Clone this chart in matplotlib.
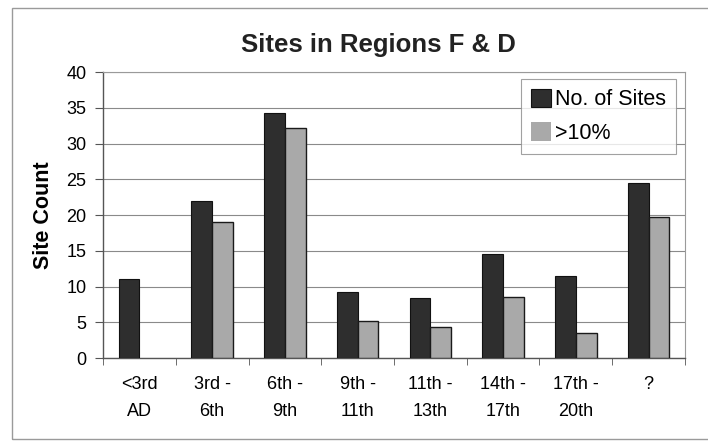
import matplotlib
matplotlib.use("Agg")
import matplotlib.pyplot as plt
from matplotlib.patches import Rectangle
import numpy as np

categories = ["<3rd\nAD", "3rd -\n6th", "6th -\n9th", "9th -\n11th",
              "11th -\n13th", "14th -\n17th", "17th -\n20th", "?"]
no_of_sites = [11, 22, 34.2, 9.2, 8.4, 14.5, 11.5, 24.5]
over_10pct = [0, 19, 32.1, 5.2, 4.4, 8.5, 3.5, 19.7]
series_names = ["No. of Sites", ">10%"]

plt.rcParams['font.family'] = ['Liberation Sans', 'DejaVu Sans']

fig = plt.figure(figsize=(7.08, 4.41), dpi=100)
ax = fig.add_axes([0.1455, 0.1882, 0.822, 0.6485])

x = np.arange(len(categories))
w = 1 / 3.5
ax.bar(x - w / 2, no_of_sites, w, color="#2e2e2e", edgecolor="#111111",
       linewidth=0.8, label=series_names[0], zorder=3)
bars = ax.bar(x + w / 2, over_10pct, w, color="#a9a9a9", edgecolor="#1a1a1a",
              linewidth=1.0, label=series_names[1], zorder=3)
for b, v in zip(bars, over_10pct):
    if v == 0:
        b.set_edgecolor("none")

ax.set_xlim(-0.5, len(categories) - 0.5)
ax.set_ylim(0, 40)
ax.set_yticks(range(0, 41, 5))
ax.yaxis.grid(True, color="#8a8a8a", linewidth=0.8, zorder=0)

# category labels centred, tick marks between categories
ax.set_xticks(x)
ax.set_xticklabels(categories, fontsize=13, linespacing=1.75)
ax.tick_params(axis="x", length=0, pad=13)
ax.set_xticks(np.arange(-0.5, len(categories), 1), minor=True)
ax.tick_params(axis="x", which="minor", length=5, color="#555555", direction="out")
ax.tick_params(axis="y", labelsize=13, length=6, color="#555555", pad=6)

for side in ["top", "right"]:
    ax.spines[side].set_color("#9a9a9a")
    ax.spines[side].set_linewidth(0.8)
for side in ["left", "bottom"]:
    ax.spines[side].set_color("#555555")
    ax.spines[side].set_linewidth(1.0)

ax.set_ylabel("Site Count", fontsize=15.5, fontweight="bold", labelpad=9)
fig.text(0.534, 0.898, "Sites in Regions F & D", fontsize=18.5,
         fontweight="bold", ha="center", va="center", color="#222222")

leg = ax.legend(loc="upper right", bbox_to_anchor=(0.955, 0.821),
                bbox_transform=fig.transFigure, fontsize=15.5, frameon=True,
                fancybox=False, edgecolor="#8a8a8a", handlelength=0.95,
                handleheight=0.95, handletextpad=0.2, labelspacing=0.55,
                borderpad=0.45, borderaxespad=0)
leg.get_frame().set_linewidth(0.8)

# outer chart border
fig.patches.append(Rectangle((0.017, 0.004), 1.0, 0.978, transform=fig.transFigure,
                             fill=False, edgecolor="#9a9a9a", linewidth=1.0))

fig.savefig("out.png", dpi=100)
